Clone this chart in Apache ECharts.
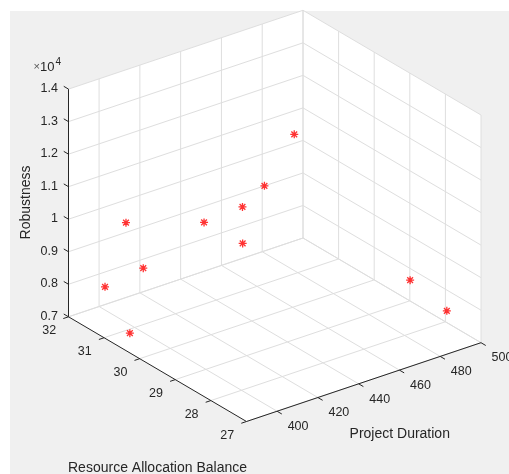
<!DOCTYPE html>
<html><head><meta charset="utf-8">
<script src="https://cdn.jsdelivr.net/npm/echarts@6/dist/echarts.min.js"></script>
<style>html,body{margin:0;padding:0;background:#fff}#c{width:509px;height:474px}</style>
</head><body><div id="c"></div>
<script>
// ---------------- data ----------------
const projectDuration = [394, 398, 391, 396, 408, 412, 421, 424, 447, 471, 489];
const resourceBalance = [31.49, 31.13, 30.62, 30.53, 29.51, 28.66, 29.17, 28.73, 29.21, 27.33, 27.33];
const robustness      = [8060, 10180, 7260, 9210, 11020, 11960, 10320, 12310, 13100, 9320, 8000];

const durationTicks = [400, 420, 440, 460, 480, 500];
const balanceTicks = [27, 28, 29, 30, 31, 32];
const robustnessTicks = [7000, 8000, 9000, 10000, 11000, 12000, 13000, 14000];
const robustnessTickLabels = ['0.7', '0.8', '0.9', '1', '1.1', '1.2', '1.3', '1.4'];
const durationRange = [385, 500];
const balanceRange = [27, 32];
const robustnessRange = [7000, 14000];

// ---------------- view (layout of the projected plot box) ----------------
const view = {
  origin: [246.5, 421.5],   // corner (duration min, balance min, robustness min)
  ex: [234.5, -78.8],       // full duration span
  ey: [-178, -104.7],       // full balance span
  ez: [0, -227.7]           // full robustness span
};
function project(x, y, z) {
  const a = (x - durationRange[0]) / (durationRange[1] - durationRange[0]);
  const b = (y - balanceRange[0]) / (balanceRange[1] - balanceRange[0]);
  const c = (z - robustnessRange[0]) / (robustnessRange[1] - robustnessRange[0]);
  return [view.origin[0] + a * view.ex[0] + b * view.ey[0] + c * view.ez[0],
          view.origin[1] + a * view.ex[1] + b * view.ey[1] + c * view.ez[1]];
}
function unit(v, s) { const l = Math.hypot(v[0], v[1]); return [s * v[0] / l, s * v[1] / l]; }

const points = projectDuration.map((d, i) => project(d, resourceBalance[i], robustness[i]));

const FONT = '"Liberation Sans", Arial, Helvetica, sans-serif';
const AXC = '#262626';
const GRIDC = '#dedede';

function renderBox(params, api) {
  const [x0, x1] = durationRange, [y0, y1] = balanceRange, [z0, z1] = robustnessRange;
  const P = (x, y, z) => api.coord(project(x, y, z));
  const ch = [];
  // white walls (floor, back-left, back-right)
  ch.push({ type: 'polygon', shape: { points: [P(x0, y1, z0), P(x0, y1, z1), P(x1, y1, z1), P(x1, y0, z1), P(x1, y0, z0), P(x0, y0, z0)] },
            style: { fill: '#ffffff' } });
  const line = (p, q, c, w) => ch.push({ type: 'line', shape: { x1: p[0], y1: p[1], x2: q[0], y2: q[1] }, style: { stroke: c, lineWidth: w || 1 } });
  // grid lines
  durationTicks.forEach(x => { line(P(x, y0, z0), P(x, y1, z0), GRIDC); line(P(x, y1, z0), P(x, y1, z1), GRIDC); });
  balanceTicks.forEach(y => { line(P(x0, y, z0), P(x1, y, z0), GRIDC); line(P(x1, y, z0), P(x1, y, z1), GRIDC); });
  robustnessTicks.forEach(z => { line(P(x0, y1, z), P(x1, y1, z), GRIDC); line(P(x1, y0, z), P(x1, y1, z), GRIDC); });
  // axes
  line(P(x0, y1, z0), P(x0, y1, z1), AXC);
  line(P(x0, y1, z0), P(x0, y0, z0), AXC);
  line(P(x0, y0, z0), P(x1, y0, z0), AXC);
  const tz = unit(view.ey, 5.5), ty = unit([-view.ex[0], -view.ex[1]], 5.5), tx = unit([-view.ey[0], -view.ey[1]], 5.5);
  const text = (x, y, s, align, size, rot) => ch.push({ type: 'text', x: x, y: y, rotation: rot || 0,
      style: { text: s, fill: AXC, fontSize: size || 12, fontFamily: FONT, align: align || 'center', verticalAlign: 'middle' } });
  robustnessTicks.forEach((z, i) => {
    const p = P(x0, y1, z);
    line(p, [p[0] + tz[0], p[1] + tz[1]], AXC);
    text(p[0] - 10.5, p[1] - 0.5, robustnessTickLabels[i], 'right', 12.5);
  });
  balanceTicks.forEach(y => {
    const p = P(x0, y, z0);
    line(p, [p[0] + ty[0], p[1] + ty[1]], AXC);
    text(p[0] - 19.3, p[1] + 13.8, String(y), 'center', 12.5);
  });
  durationTicks.forEach(x => {
    const p = P(x, y0, z0);
    line(p, [p[0] + tx[0], p[1] + tx[1]], AXC);
    text(p[0] + 21, p[1] + 15.3, String(x), 'center', 12.5);
  });
  // exponent label
  const e = P(x0, y1, z1);
  ch.push({ type: 'text', x: e[0] - 35, y: e[1] - 22, style: {
      text: '{m|×}{a|10}{b|4}', fontFamily: FONT, align: 'left', verticalAlign: 'middle',
      rich: { m: { fontSize: 11, fill: '#555', fontFamily: FONT },
              a: { fontSize: 13, fill: AXC, fontFamily: FONT },
              b: { fontSize: 10, fill: AXC, fontFamily: FONT, verticalAlign: 'top', padding: [0, 0, 10, 1] } } } });
  // axis titles
  const zm = P(x0, y1, (z0 + z1) / 2);
  text(zm[0] - 42, zm[1] - 0.5, 'Robustness', 'center', 14, Math.PI / 2);
  const ym = P(x0, (y0 + y1) / 2, z0);
  text(ym[0] - 0, ym[1] + 98.5, 'Resource Allocation Balance', 'center', 14);
  const xm = P((x0 + x1) / 2, y0, z0);
  text(xm[0] + 36, xm[1] + 52, 'Project Duration', 'center', 14);
  return { type: 'group', children: ch };
}

const chart = echarts.init(document.getElementById('c'), null, { renderer: 'canvas' });
chart.setOption({
  animation: false,
  backgroundColor: '#ffffff',
  graphic: { elements: [{ type: 'rect', z: -100, left: 10, top: 11, shape: { width: 499, height: 463 }, style: { fill: '#f0f0f0' } }] },
  grid: { left: 0, right: 0, top: 0, bottom: 0 },
  xAxis: { type: 'value', min: 0, max: 509, show: false },
  yAxis: { type: 'value', min: 0, max: 474, inverse: true, show: false },
  series: [
    { type: 'custom', renderItem: renderBox, data: [[0, 0]], z: 1, silent: true, clip: false },
    { type: 'scatter', data: points, z: 5, symbol: 'path://M0,-1L0,1M-1,0L1,0M-0.72,-0.72L0.72,0.72M-0.72,0.72L0.72,-0.72',
      symbolSize: 8, itemStyle: { color: 'rgba(0,0,0,0)', borderColor: '#ff0000', borderWidth: 1.3 } }
  ]
});
</script></body></html>
